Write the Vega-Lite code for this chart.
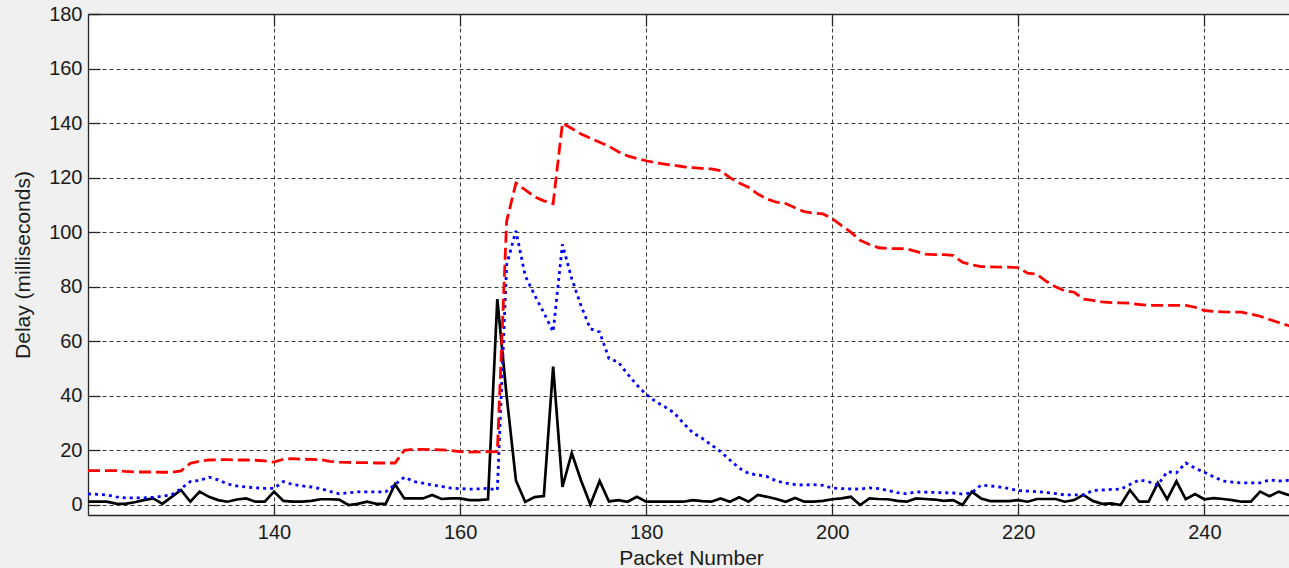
{
  "$schema": "https://vega.github.io/schema/vega-lite/v6.json",
  "width": 1201,
  "height": 501,
  "autosize": {"type": "none"},
  "padding": {"left": 88, "top": 14, "right": 0, "bottom": 53},
  "background": "#f0f0f0",
  "config": {
    "view": {"fill": "white", "stroke": null},
    "font": "Liberation Sans",
    "axis": {
      "domainColor": "#262626",
      "domainWidth": 1.3,
      "tickColor": "#262626",
      "tickWidth": 1.3,
      "tickSize": -12,
      "gridColor": "#262626",
      "gridDash": [4, 3],
      "gridWidth": 1,
      "gridOpacity": 0.9,
      "labelFont": "Liberation Sans",
      "labelFontSize": 20,
      "labelColor": "#1a1a1a",
      "titleFont": "Liberation Sans",
      "titleFontSize": 21,
      "titleFontWeight": "normal",
      "titleColor": "#1a1a1a",
      "labelFlush": false,
      "labelOverlap": false
    }
  },
  "data": {
    "values": [
      {"packet": 120, "delay_1": 12.6, "delay_2": 4.1, "delay_3": 1.2},
      {"packet": 121, "delay_1": 12.6, "delay_2": 3.9, "delay_3": 1.2},
      {"packet": 122, "delay_1": 12.6, "delay_2": 3.7, "delay_3": 1.2},
      {"packet": 123, "delay_1": 12.6, "delay_2": 3.0, "delay_3": 0.5},
      {"packet": 124, "delay_1": 12.3, "delay_2": 2.6, "delay_3": 0.4},
      {"packet": 125, "delay_1": 12.1, "delay_2": 2.6, "delay_3": 1.0},
      {"packet": 126, "delay_1": 12.1, "delay_2": 2.6, "delay_3": 1.8},
      {"packet": 127, "delay_1": 12.1, "delay_2": 2.8, "delay_3": 2.4},
      {"packet": 128, "delay_1": 12.0, "delay_2": 3.2, "delay_3": 0.4},
      {"packet": 129, "delay_1": 12.0, "delay_2": 3.8, "delay_3": 3.0},
      {"packet": 130, "delay_1": 12.5, "delay_2": 6.0, "delay_3": 5.5},
      {"packet": 131, "delay_1": 15.3, "delay_2": 8.6, "delay_3": 1.2},
      {"packet": 132, "delay_1": 16.0, "delay_2": 9.0, "delay_3": 4.9},
      {"packet": 133, "delay_1": 16.5, "delay_2": 10.2, "delay_3": 3.0},
      {"packet": 134, "delay_1": 16.6, "delay_2": 9.2, "delay_3": 1.8},
      {"packet": 135, "delay_1": 16.6, "delay_2": 7.7, "delay_3": 1.2},
      {"packet": 136, "delay_1": 16.5, "delay_2": 7.0, "delay_3": 2.0},
      {"packet": 137, "delay_1": 16.5, "delay_2": 6.6, "delay_3": 2.4},
      {"packet": 138, "delay_1": 16.4, "delay_2": 6.3, "delay_3": 1.2},
      {"packet": 139, "delay_1": 16.2, "delay_2": 6.1, "delay_3": 1.2},
      {"packet": 140, "delay_1": 15.7, "delay_2": 6.1, "delay_3": 4.9},
      {"packet": 141, "delay_1": 16.8, "delay_2": 8.6, "delay_3": 1.5},
      {"packet": 142, "delay_1": 17.0, "delay_2": 7.5, "delay_3": 1.2},
      {"packet": 143, "delay_1": 16.8, "delay_2": 7.0, "delay_3": 1.2},
      {"packet": 144, "delay_1": 16.7, "delay_2": 6.6, "delay_3": 1.5},
      {"packet": 145, "delay_1": 16.6, "delay_2": 6.0, "delay_3": 2.1},
      {"packet": 146, "delay_1": 16.0, "delay_2": 5.0, "delay_3": 2.1},
      {"packet": 147, "delay_1": 15.7, "delay_2": 4.1, "delay_3": 2.0},
      {"packet": 148, "delay_1": 15.6, "delay_2": 4.5, "delay_3": 0.0},
      {"packet": 149, "delay_1": 15.5, "delay_2": 4.8, "delay_3": 0.4},
      {"packet": 150, "delay_1": 15.5, "delay_2": 4.8, "delay_3": 1.2},
      {"packet": 151, "delay_1": 15.4, "delay_2": 4.8, "delay_3": 0.4},
      {"packet": 152, "delay_1": 15.4, "delay_2": 4.8, "delay_3": 0.4},
      {"packet": 153, "delay_1": 15.4, "delay_2": 7.5, "delay_3": 7.6},
      {"packet": 154, "delay_1": 20.0, "delay_2": 10.2, "delay_3": 2.4},
      {"packet": 155, "delay_1": 20.4, "delay_2": 8.6, "delay_3": 2.4},
      {"packet": 156, "delay_1": 20.4, "delay_2": 8.0, "delay_3": 2.4},
      {"packet": 157, "delay_1": 20.3, "delay_2": 7.3, "delay_3": 3.7},
      {"packet": 158, "delay_1": 20.2, "delay_2": 6.8, "delay_3": 2.2},
      {"packet": 159, "delay_1": 20.0, "delay_2": 6.2, "delay_3": 2.4},
      {"packet": 160, "delay_1": 19.6, "delay_2": 6.0, "delay_3": 2.4},
      {"packet": 161, "delay_1": 19.4, "delay_2": 5.8, "delay_3": 1.8},
      {"packet": 162, "delay_1": 19.5, "delay_2": 5.9, "delay_3": 1.8},
      {"packet": 163, "delay_1": 19.6, "delay_2": 6.1, "delay_3": 2.1},
      {"packet": 164, "delay_1": 19.5, "delay_2": 5.5, "delay_3": 75.5},
      {"packet": 165, "delay_1": 104, "delay_2": 88, "delay_3": 40},
      {"packet": 166, "delay_1": 118, "delay_2": 100.5, "delay_3": 9},
      {"packet": 167, "delay_1": 115.5, "delay_2": 84, "delay_3": 1.1},
      {"packet": 168, "delay_1": 113, "delay_2": 77, "delay_3": 2.9},
      {"packet": 169, "delay_1": 111.5, "delay_2": 70.5, "delay_3": 3.3},
      {"packet": 170, "delay_1": 110.5, "delay_2": 63.5, "delay_3": 50.7},
      {"packet": 171, "delay_1": 140, "delay_2": 95.5, "delay_3": 6.6},
      {"packet": 172, "delay_1": 138, "delay_2": 83, "delay_3": 19},
      {"packet": 173, "delay_1": 136, "delay_2": 73, "delay_3": 9},
      {"packet": 174, "delay_1": 134.5, "delay_2": 64.6, "delay_3": 0.2},
      {"packet": 175, "delay_1": 133, "delay_2": 63.4, "delay_3": 8.8},
      {"packet": 176, "delay_1": 131.5, "delay_2": 53.7, "delay_3": 1.3},
      {"packet": 177, "delay_1": 129.5, "delay_2": 52.4, "delay_3": 1.8},
      {"packet": 178, "delay_1": 128, "delay_2": 48, "delay_3": 1.2},
      {"packet": 179, "delay_1": 127, "delay_2": 44, "delay_3": 3.0},
      {"packet": 180, "delay_1": 126.2, "delay_2": 40.5, "delay_3": 1.2},
      {"packet": 181, "delay_1": 125.5, "delay_2": 38, "delay_3": 1.2},
      {"packet": 182, "delay_1": 125, "delay_2": 36, "delay_3": 1.2},
      {"packet": 183, "delay_1": 124.5, "delay_2": 33.8, "delay_3": 1.2},
      {"packet": 184, "delay_1": 124, "delay_2": 30, "delay_3": 1.2},
      {"packet": 185, "delay_1": 123.7, "delay_2": 26.5, "delay_3": 1.8},
      {"packet": 186, "delay_1": 123.4, "delay_2": 24.5, "delay_3": 1.4},
      {"packet": 187, "delay_1": 123.2, "delay_2": 22, "delay_3": 1.2},
      {"packet": 188, "delay_1": 122.6, "delay_2": 19.6, "delay_3": 2.4},
      {"packet": 189, "delay_1": 120, "delay_2": 16.5, "delay_3": 1.2},
      {"packet": 190, "delay_1": 118, "delay_2": 13.5, "delay_3": 2.8},
      {"packet": 191, "delay_1": 116.5, "delay_2": 11.6, "delay_3": 1.2},
      {"packet": 192, "delay_1": 114, "delay_2": 11, "delay_3": 3.7},
      {"packet": 193, "delay_1": 112.2, "delay_2": 10.4, "delay_3": 3.0},
      {"packet": 194, "delay_1": 111, "delay_2": 8.8, "delay_3": 2.2},
      {"packet": 195, "delay_1": 110.5, "delay_2": 8, "delay_3": 1.2},
      {"packet": 196, "delay_1": 109, "delay_2": 7.5, "delay_3": 2.6},
      {"packet": 197, "delay_1": 107.5, "delay_2": 7.3, "delay_3": 1.2},
      {"packet": 198, "delay_1": 107, "delay_2": 7.5, "delay_3": 1.2},
      {"packet": 199, "delay_1": 106.7, "delay_2": 7.2, "delay_3": 1.5},
      {"packet": 200, "delay_1": 105, "delay_2": 6.2, "delay_3": 2.1},
      {"packet": 201, "delay_1": 102.4, "delay_2": 6.0, "delay_3": 2.4},
      {"packet": 202, "delay_1": 100, "delay_2": 5.9, "delay_3": 3.0},
      {"packet": 203, "delay_1": 97, "delay_2": 5.8, "delay_3": 0.0},
      {"packet": 204, "delay_1": 95.5, "delay_2": 6.3, "delay_3": 2.4},
      {"packet": 205, "delay_1": 94.3, "delay_2": 6.0, "delay_3": 2.2},
      {"packet": 206, "delay_1": 94, "delay_2": 5.3, "delay_3": 2.1},
      {"packet": 207, "delay_1": 94, "delay_2": 4.5, "delay_3": 1.5},
      {"packet": 208, "delay_1": 93.9, "delay_2": 4.1, "delay_3": 1.2},
      {"packet": 209, "delay_1": 93, "delay_2": 4.8, "delay_3": 2.4},
      {"packet": 210, "delay_1": 92, "delay_2": 4.7, "delay_3": 2.2},
      {"packet": 211, "delay_1": 91.8, "delay_2": 4.6, "delay_3": 2.0},
      {"packet": 212, "delay_1": 91.8, "delay_2": 4.5, "delay_3": 1.5},
      {"packet": 213, "delay_1": 91.5, "delay_2": 4.4, "delay_3": 1.8},
      {"packet": 214, "delay_1": 89, "delay_2": 4.0, "delay_3": 0.0},
      {"packet": 215, "delay_1": 88, "delay_2": 4.5, "delay_3": 4.9},
      {"packet": 216, "delay_1": 87.4, "delay_2": 7.3, "delay_3": 2.4},
      {"packet": 217, "delay_1": 87.3, "delay_2": 7.0, "delay_3": 1.4},
      {"packet": 218, "delay_1": 87.2, "delay_2": 6.6, "delay_3": 1.4},
      {"packet": 219, "delay_1": 87.2, "delay_2": 6.0, "delay_3": 1.4},
      {"packet": 220, "delay_1": 87, "delay_2": 5.3, "delay_3": 1.8},
      {"packet": 221, "delay_1": 85, "delay_2": 5.1, "delay_3": 1.2},
      {"packet": 222, "delay_1": 84.6, "delay_2": 4.9, "delay_3": 2.2},
      {"packet": 223, "delay_1": 82, "delay_2": 4.6, "delay_3": 2.2},
      {"packet": 224, "delay_1": 80, "delay_2": 4.2, "delay_3": 2.2},
      {"packet": 225, "delay_1": 78.5, "delay_2": 3.7, "delay_3": 1.2},
      {"packet": 226, "delay_1": 78, "delay_2": 3.7, "delay_3": 1.8},
      {"packet": 227, "delay_1": 75.5, "delay_2": 3.7, "delay_3": 3.7},
      {"packet": 228, "delay_1": 75, "delay_2": 5.3, "delay_3": 1.5},
      {"packet": 229, "delay_1": 74.5, "delay_2": 5.5, "delay_3": 0.4},
      {"packet": 230, "delay_1": 74.2, "delay_2": 5.7, "delay_3": 0.6},
      {"packet": 231, "delay_1": 74.1, "delay_2": 5.8, "delay_3": 0.0},
      {"packet": 232, "delay_1": 74, "delay_2": 7.5, "delay_3": 5.5},
      {"packet": 233, "delay_1": 73.5, "delay_2": 9.2, "delay_3": 1.2},
      {"packet": 234, "delay_1": 73.2, "delay_2": 8.5, "delay_3": 1.2},
      {"packet": 235, "delay_1": 73.2, "delay_2": 7.3, "delay_3": 8.0},
      {"packet": 236, "delay_1": 73.2, "delay_2": 12.2, "delay_3": 2.1},
      {"packet": 237, "delay_1": 73.2, "delay_2": 11.8, "delay_3": 8.7},
      {"packet": 238, "delay_1": 73.2, "delay_2": 15.4, "delay_3": 2.1},
      {"packet": 239, "delay_1": 72.5, "delay_2": 13.5, "delay_3": 4.0},
      {"packet": 240, "delay_1": 71.3, "delay_2": 12, "delay_3": 2.1},
      {"packet": 241, "delay_1": 71, "delay_2": 10.3, "delay_3": 2.5},
      {"packet": 242, "delay_1": 70.8, "delay_2": 8.8, "delay_3": 2.2},
      {"packet": 243, "delay_1": 70.7, "delay_2": 8.4, "delay_3": 1.8},
      {"packet": 244, "delay_1": 70.7, "delay_2": 8.1, "delay_3": 1.2},
      {"packet": 245, "delay_1": 70, "delay_2": 8.1, "delay_3": 1.2},
      {"packet": 246, "delay_1": 69.2, "delay_2": 8.1, "delay_3": 4.9},
      {"packet": 247, "delay_1": 68, "delay_2": 9.2, "delay_3": 3.2},
      {"packet": 248, "delay_1": 66.9, "delay_2": 8.8, "delay_3": 4.9},
      {"packet": 249, "delay_1": 65.8, "delay_2": 9.0, "delay_3": 3.7},
      {"packet": 250, "delay_1": 64.8, "delay_2": 9.0, "delay_3": 3.5}
    ]
  },
  "layer": [
    {
      "mark": {"type": "line", "color": "#000000", "strokeWidth": 2.7, "clip": true},
      "encoding": {
        "x": {
          "field": "packet", "type": "quantitative",
          "scale": {"domain": [120, 249.1], "nice": false, "zero": false},
          "axis": {
            "orient": "bottom", "values": [140, 160, 180, 200, 220, 240],
            "grid": true, "labelPadding": 19,
            "title": "Packet Number", "titleX": 603, "titleY": 49,
            "titleBaseline": "alphabetic", "titleAnchor": null, "titleAlign": "center"
          }
        },
        "y": {
          "field": "delay_3", "type": "quantitative",
          "scale": {"domain": [-3.67, 180], "nice": false, "zero": false},
          "title": "Delay (milliseconds)",
          "axis": {
            "values": [0, 20, 40, 60, 80, 100, 120, 140, 160, 180],
            "grid": true, "labelPadding": 18,
            "titleX": -59, "titleY": 250.5, "titleBaseline": "alphabetic", "titleAngle": 270
          }
        }
      }
    },
    {
      "mark": {"type": "line", "color": "#0000ff", "strokeWidth": 2.8, "strokeDash": [3, 4], "clip": true},
      "encoding": {
        "x": {"field": "packet", "type": "quantitative", "scale": {"domain": [120, 249.1], "nice": false, "zero": false}, "axis": null},
        "y": {"field": "delay_2", "type": "quantitative", "scale": {"domain": [-3.67, 180], "nice": false, "zero": false}, "title": "Delay (milliseconds)"}
      }
    },
    {
      "mark": {"type": "line", "color": "#ff0000", "strokeWidth": 2.8, "strokeDash": [12, 5], "clip": true},
      "encoding": {
        "x": {
          "field": "packet", "type": "quantitative",
          "scale": {"domain": [120, 249.1], "nice": false, "zero": false},
          "axis": {"orient": "top", "values": [140, 160, 180, 200, 220, 240], "grid": false, "labels": false, "title": null}
        },
        "y": {"field": "delay_1", "type": "quantitative", "scale": {"domain": [-3.67, 180], "nice": false, "zero": false}, "title": "Delay (milliseconds)"}
      }
    }
  ],
  "resolve": {"axis": {"x": "independent"}}
}
